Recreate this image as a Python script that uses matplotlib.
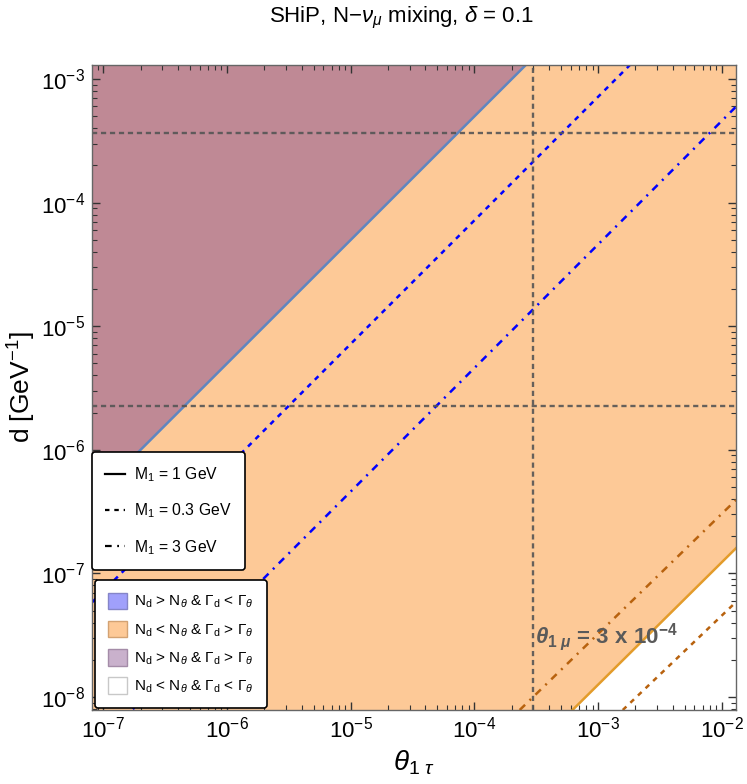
import matplotlib
matplotlib.use('Agg')
import matplotlib.pyplot as plt
import numpy as np
from matplotlib.lines import Line2D
from matplotlib.patches import Patch
from matplotlib.ticker import LogLocator, NullFormatter

plt.rcParams['font.family'] = ['Liberation Sans', 'DejaVu Sans']
plt.rcParams['mathtext.fontset'] = 'custom'
plt.rcParams['mathtext.rm'] = 'Liberation Sans'
plt.rcParams['mathtext.it'] = 'Liberation Sans:italic'
plt.rcParams['mathtext.bf'] = 'Liberation Sans:bold'
plt.rcParams['mathtext.bfit'] = 'Liberation Sans:bold:italic'

# axis ranges
theta_lim = [8.1e-8, 1.3e-2]
d_lim = [7.85e-9, 1.3e-3]

# N_d = N_theta boundaries, d = k * theta  (M1 = 1, 0.3, 3 GeV)
k_blue = {'1': 5.0, '0.3': 0.72, '3': 0.046}

# Gamma_d = Gamma_theta boundaries (theta, d) end points
theta_gam_1 = [6.2e-4, 1.3e-2]
d_gam_1 = [7.85e-9, 1.6e-7]
theta_gam_03 = [1.58e-3, 1.3e-2]
d_gam_03 = [7.85e-9, 5.87e-8]
theta_gam_3 = [2.32e-4, 1.3e-2]
d_gam_3 = [7.85e-9, 3.93e-7]

# reference lines
d_hlines = [3.66e-4, 2.26e-6]
theta_vline = 3e-4

col_purple = '#bf8995'
col_orange = '#fdc997'
col_blue_line = '#5f86c0'
col_orange_line = '#e39c2b'
col_brown = '#b8620e'

dash = (0, (2, 2.2))
dashdot = (0, (3, 2.5, 0.8, 2.5))

fig = plt.figure(figsize=(7.47, 7.84), dpi=100)
ax = fig.add_axes([92/747, 1-710/784, 644/747, 645/784])
ax.set_xscale('log')
ax.set_yscale('log')
ax.set_xlim(theta_lim)
ax.set_ylim(d_lim)

th = np.array(theta_lim)
ax.set_facecolor(col_orange)
ax.fill_between(theta_gam_1, [d_lim[0]] * 2, d_gam_1, color='white', lw=0)
ax.fill_between(th, k_blue['1'] * th, [d_lim[1]] * 2, color=col_purple, lw=0)

ax.plot(th, k_blue['1'] * th, color=col_blue_line, lw=1.8)
ax.plot(th, k_blue['0.3'] * th, color='blue', lw=1.8, ls=dash)
ax.plot(th, k_blue['3'] * th, color='blue', lw=1.8, ls=dashdot)

ax.plot(theta_gam_1, d_gam_1, color=col_orange_line, lw=1.8)
ax.plot(theta_gam_03, d_gam_03, color=col_brown, lw=1.8, ls=dash)
ax.plot(theta_gam_3, d_gam_3, color=col_brown, lw=1.8, ls=dashdot)

for dh in d_hlines:
    ax.axhline(dh, color='#555555', lw=1.7, ls=(0, (2.2, 1.6)), alpha=0.9)
ax.axvline(theta_vline, color='#555555', lw=1.7, ls=(0, (2.2, 1.6)), alpha=0.9)

ax.text(3.1e-4, 3.05e-8,
        r'$\mathbfit{\theta}_{\mathbf{1}\ \mathbfit{\mu}}$ = 3 x 10$^{\mathbf{-4}}$',
        fontsize=16, fontweight='bold', color='#5a5a5a', ha='left', va='center')

for a in (ax.xaxis, ax.yaxis):
    a.set_major_locator(LogLocator(base=10, numticks=20))
    a.set_minor_locator(LogLocator(base=10, subs=np.arange(2, 10), numticks=20))
    a.set_minor_formatter(NullFormatter())
ax.tick_params(which='both', direction='in', top=True, right=True, colors='#333333',
               labelcolor='black', labelsize=16)
ax.tick_params(which='major', length=6, width=1.0, pad=5)
ax.tick_params(which='minor', length=3.5, width=0.8)
for s in ax.spines.values():
    s.set_color('#666666')
    s.set_linewidth(1.0)

ax.set_xlabel(r'$\theta_{1\ \tau}$', fontsize=20, labelpad=4)
ax.set_ylabel(r'd [GeV$^{-1}$]', fontsize=19, labelpad=2)
fig.text(401/747, 1-18/784, r'SHiP, N$-$$\nu_{\mu}$ mixing, $\delta$ = 0.1',
         fontsize=16, ha='center', va='center')

h1 = [Line2D([], [], color='black', lw=1.6),
      Line2D([], [], color='black', lw=1.6, ls=dash),
      Line2D([], [], color='black', lw=1.6, ls=dashdot)]
l1 = [r'M$_1$ = 1 GeV', r'M$_1$ = 0.3 GeV', r'M$_1$ = 3 GeV']
leg1 = ax.legend(h1, l1, loc='upper left', bbox_to_anchor=(0.0, 0.4), fontsize=11.3,
                 handlelength=1.25, handletextpad=0.6, labelspacing=1.12, borderpad=0.85,
                 fancybox=True, framealpha=1, edgecolor='black', borderaxespad=0)
leg1.get_frame().set_linewidth(1.2)
ax.add_artist(leg1)

h2 = [Patch(facecolor='#a0a0fb', edgecolor='#8585c8'),
      Patch(facecolor=col_orange, edgecolor='#d3a273'),
      Patch(facecolor='#c9b1cc', edgecolor='#a48ca8'),
      Patch(facecolor='white', edgecolor='#c8c8c8')]
l2 = [r'N$_\mathrm{d}$ > N$_\theta$ & $\Gamma_\mathrm{d}$ < $\Gamma_\theta$',
      r'N$_\mathrm{d}$ < N$_\theta$ & $\Gamma_\mathrm{d}$ > $\Gamma_\theta$',
      r'N$_\mathrm{d}$ > N$_\theta$ & $\Gamma_\mathrm{d}$ > $\Gamma_\theta$',
      r'N$_\mathrm{d}$ < N$_\theta$ & $\Gamma_\mathrm{d}$ < $\Gamma_\theta$']
leg2 = ax.legend(h2, l2, loc='lower left', bbox_to_anchor=(0.004, 0.003), fontsize=11,
                 handlelength=1.3, handleheight=1.3, labelspacing=0.68, borderpad=0.85,
                 handletextpad=0.45, fancybox=True, framealpha=1, edgecolor='black',
                 borderaxespad=0)
leg2.get_frame().set_linewidth(1.2)

fig.savefig('out.png', dpi=100)
